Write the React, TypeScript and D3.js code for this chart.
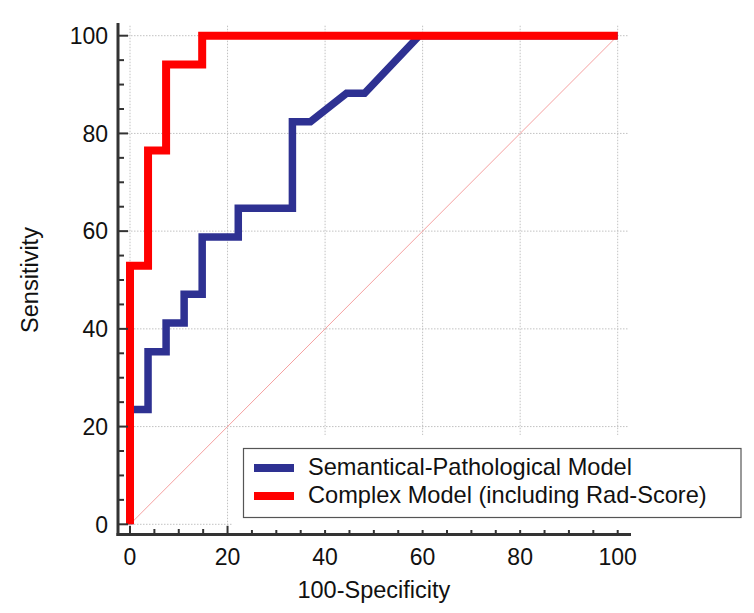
import React from "react";
import * as d3 from "d3";

const semX = [0, 0, 3.7, 3.7, 7.4, 7.4, 11.1, 11.1, 14.8, 14.8, 22.2, 22.2, 33.3, 33.3, 37.0, 44.4, 48.1, 59.3, 100];
const semY = [0, 23.5, 23.5, 35.3, 35.3, 41.2, 41.2, 47.1, 47.1, 58.8, 58.8, 64.7, 64.7, 82.4, 82.4, 88.2, 88.2, 100, 100];
const compX = [0, 0, 3.7, 3.7, 7.4, 7.4, 14.8, 14.8, 100];
const compY = [0, 52.9, 52.9, 76.5, 76.5, 94.1, 94.1, 100, 100];
const refX = [0, 100];
const refY = [0, 100];
const majorTicks = [0, 20, 40, 60, 80, 100];
const minorTicks = d3.range(0, 101, 5).filter((v) => v % 20 !== 0);
const seriesNames = ["Semantical-Pathological Model", "Complex Model (including Rad-Score)"];
const seriesColors = ["#2E3192", "#FF0000"];

const FONT = "'Liberation Sans', Arial, sans-serif";

export default function App() {
  const W = 754, H = 613;
  const x = d3.scaleLinear().domain([0, 100]).range([130, 617.7]);
  const y = d3.scaleLinear().domain([0, 100]).range([524.3, 35.7]);
  const line = d3.line<[number, number]>().x((d) => x(d[0])).y((d) => y(d[1]));
  const sem = semX.map((v, i) => [v, semY[i]] as [number, number]);
  const comp = compX.map((v, i) => [v, compY[i]] as [number, number]);
  const ref = refX.map((v, i) => [v, refY[i]] as [number, number]);

  const axisX = 118; // y-axis line position
  const axisY = 534.5; // x-axis line position

  return (
    <svg width={W} height={H} style={{ position: "absolute", left: 0, top: 0, background: "#fff" }} fontFamily={FONT}>
      <rect x={0} y={0} width={W} height={H} fill="#fff" />
      {/* grid */}
      <g stroke="#c2c2c2" strokeWidth={1} strokeDasharray="1.5,1.5">
        {majorTicks.map((t) => (
          <line key={"gh" + t} x1={x(0) - 2} x2={x(100) + 10} y1={y(t)} y2={y(t)} />
        ))}
        {majorTicks.map((t) => (
          <line key={"gv" + t} x1={x(t)} x2={x(t)} y1={y(100) - 10} y2={y(0) + 1} />
        ))}
      </g>
      {/* reference diagonal */}
      <path d={line(ref) || ""} fill="none" stroke="#F5A0A0" strokeWidth={1} />
      {/* curves */}
      <path d={line(sem) || ""} fill="none" stroke={seriesColors[0]} strokeWidth={7.5} strokeLinejoin="miter" />
      <path d={line(comp) || ""} fill="none" stroke={seriesColors[1]} strokeWidth={8} strokeLinejoin="miter" />
      {/* axes */}
      <g stroke="#333" strokeWidth={3}>
        <line x1={axisX} x2={axisX} y1={23} y2={axisY + 1.5} />
        <line x1={axisX - 1.5} x2={631} y1={axisY} y2={axisY} />
      </g>
      <g stroke="#333" strokeWidth={2}>
        {majorTicks.map((t) => (
          <line key={"ym" + t} x1={axisX} x2={x(0) - 2} y1={y(t)} y2={y(t)} />
        ))}
        {minorTicks.map((t) => (
          <line key={"yn" + t} x1={axisX} x2={axisX + 6} y1={y(t)} y2={y(t)} />
        ))}
        {majorTicks.map((t) => (
          <line key={"xm" + t} x1={x(t)} x2={x(t)} y1={axisY} y2={y(0) + 1.5} />
        ))}
        {minorTicks.map((t) => (
          <line key={"xn" + t} x1={x(t)} x2={x(t)} y1={axisY} y2={axisY - 5.5} />
        ))}
      </g>
      {/* tick labels */}
      <g fontSize={23} fill="#111">
        {majorTicks.map((t) => (
          <text key={"yl" + t} x={108} y={y(t) + 8.2} textAnchor="end">{t}</text>
        ))}
        {majorTicks.map((t) => (
          <text key={"xl" + t} x={x(t)} y={565} textAnchor="middle">{t}</text>
        ))}
      </g>
      {/* axis titles */}
      <text x={x(50)} y={598} textAnchor="middle" fontSize={23.5} fill="#111">100-Specificity</text>
      <text transform={`translate(38,${(y(0) + y(100)) / 2}) rotate(-90)`} textAnchor="middle" fontSize={23.5} fill="#111">Sensitivity</text>
      {/* legend */}
      <rect x={233} y={435} width={521} height={95} fill="#fff" />
      <rect x={243.5} y={448.5} width={497.5} height={69} fill="#fff" stroke="#555" strokeWidth={1.2} />
      {seriesNames.map((name, i) => (
        <g key={name}>
          <line x1={254} x2={294} y1={468 + i * 28} y2={468 + i * 28} stroke={seriesColors[i]} strokeWidth={8} />
          <text x={308} y={475 + i * 28} fontSize={23.6} fill="#111">{name}</text>
        </g>
      ))}
    </svg>
  );
}
